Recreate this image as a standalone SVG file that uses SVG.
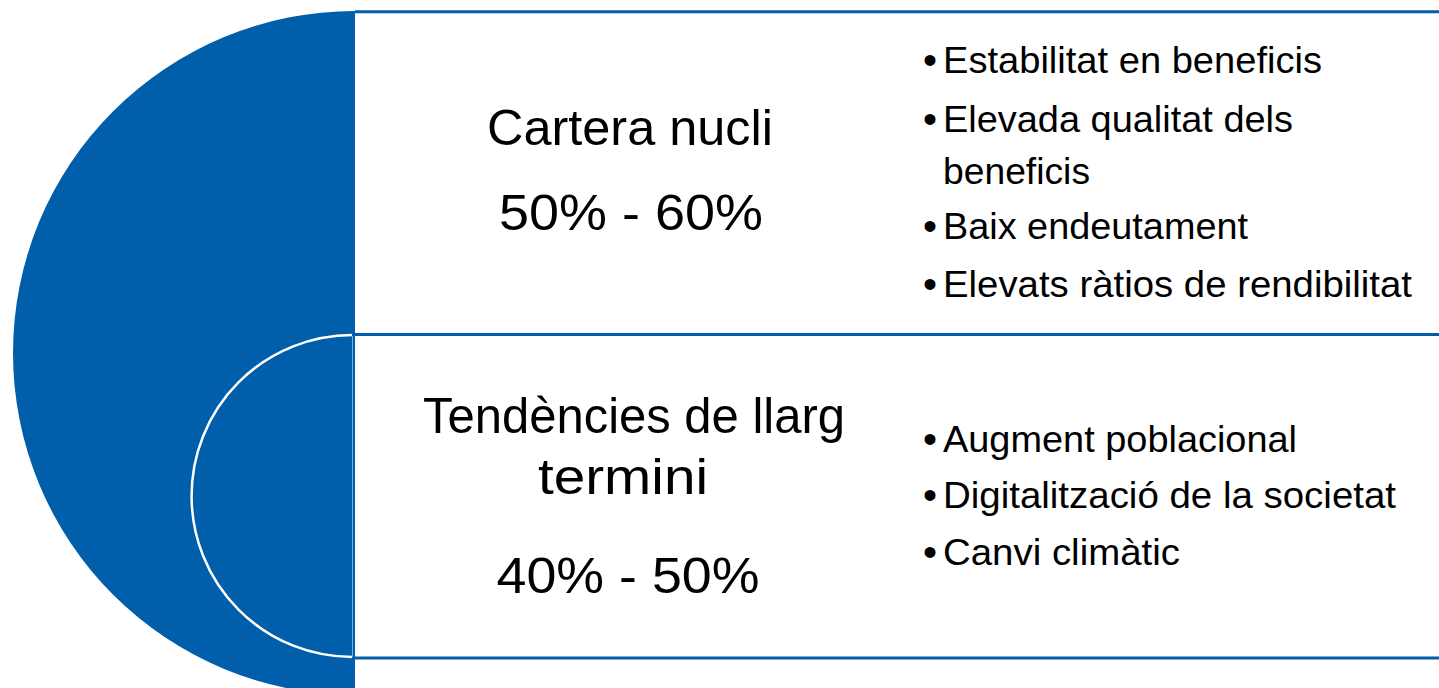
<svg xmlns="http://www.w3.org/2000/svg" width="1439" height="688" viewBox="0 0 1439 688">
<style>
.head{font-family:"Liberation Sans",Arial,sans-serif;font-size:50px;fill:#000;text-anchor:middle}
.bul{font-family:"Liberation Sans",Arial,sans-serif;font-size:37px;fill:#000}
.dot{font-family:"Liberation Sans",Arial,sans-serif;font-size:40px;fill:#000;text-anchor:middle}
.rule{stroke:#005EAA;stroke-width:3;fill:none}
</style>
<rect width="1439" height="688" fill="#fff"/>
<g id="half-circle">
<path d="M355,11 A342,342 0 0 0 355,695 Z" fill="#005EAA"/>
<path d="M352.5,335 A161,161 0 0 0 352.5,657" fill="none" stroke="#fff" stroke-width="2.5"/>
<line x1="352.5" y1="335" x2="352.5" y2="657" stroke="#fff" stroke-width="1" stroke-opacity="0.5"/>
</g>
<g id="connectors">
<line class="rule" x1="355" y1="11.7" x2="1439" y2="11.7"/>
<line class="rule" x1="352" y1="334.5" x2="1439" y2="334.5"/>
<line class="rule" x1="352" y1="658" x2="1439" y2="658"/>
</g>
<g id="node-cartera">
<text class="head" x="630" y="145" textLength="286" lengthAdjust="spacingAndGlyphs">Cartera nucli</text>
<text class="head" x="631" y="230" textLength="264" lengthAdjust="spacingAndGlyphs">50% - 60%</text>
</g>
<g id="node-tendencies">
<text class="head" x="634" y="433" textLength="422" lengthAdjust="spacingAndGlyphs">Tendències de llarg</text>
<text class="head" x="623" y="494" textLength="170" lengthAdjust="spacingAndGlyphs">termini</text>
<text class="head" x="628" y="593" textLength="263" lengthAdjust="spacingAndGlyphs">40% - 50%</text>
</g>
<g id="node-bullets-1">
<text class="dot" x="930" y="74">•</text>
<text class="bul" x="943" y="73" textLength="379" lengthAdjust="spacingAndGlyphs">Estabilitat en beneficis</text>
<text class="dot" x="930" y="133">•</text>
<text class="bul" x="943" y="132" textLength="350" lengthAdjust="spacingAndGlyphs">Elevada qualitat dels</text>
<text class="bul" x="943" y="184" textLength="147" lengthAdjust="spacingAndGlyphs">beneficis</text>
<text class="dot" x="930" y="240">•</text>
<text class="bul" x="943" y="239" textLength="305" lengthAdjust="spacingAndGlyphs">Baix endeutament</text>
<text class="dot" x="930" y="298">•</text>
<text class="bul" x="943" y="297" textLength="469" lengthAdjust="spacingAndGlyphs">Elevats ràtios de rendibilitat</text>
</g>
<g id="node-bullets-2">
<text class="dot" x="930" y="453">•</text>
<text class="bul" x="943" y="452" textLength="354" lengthAdjust="spacingAndGlyphs">Augment poblacional</text>
<text class="dot" x="930" y="509">•</text>
<text class="bul" x="943" y="508" textLength="453" lengthAdjust="spacingAndGlyphs">Digitalització de la societat</text>
<text class="dot" x="930" y="566">•</text>
<text class="bul" x="943" y="565" textLength="237" lengthAdjust="spacingAndGlyphs">Canvi climàtic</text>
</g>
</svg>
